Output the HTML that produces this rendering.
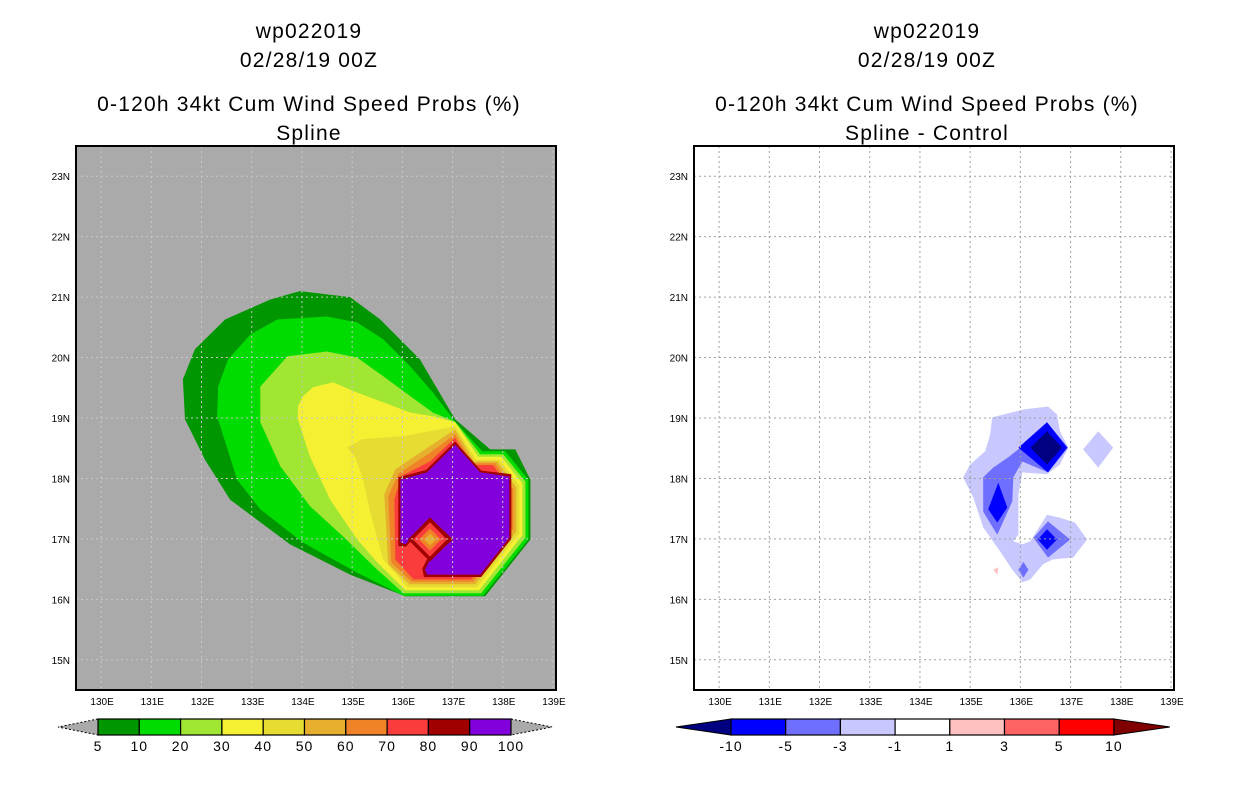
<!DOCTYPE html>
<html><head><meta charset="utf-8"><style>
html,body{margin:0;padding:0;background:#fff;width:1236px;height:800px;overflow:hidden}
svg text{font-family:"Liberation Sans",sans-serif}
</style></head><body>
<svg id="s" width="1236" height="800" xmlns="http://www.w3.org/2000/svg"></svg>
<script>
// ---- data ----
const lonTicks=[130,131,132,133,134,135,136,137,138,139];
const latTicks=[15,16,17,18,19,20,21,22,23];
const leftLevels=[5,10,20,30,40,50,60,70,80,90,100];
const leftColors=["#009600","#00dc00","#a0e632","#f5f032","#e6dc32","#e6af2d","#f08228","#fa3c3c","#a00000","#8200dc"];
const rightLevels=[-10,-5,-3,-1,1,3,5,10];
const rightColors=["#000080","#0000ff","#6e6eff","#c8c8ff","#ffffff","#ffc0c0","#ff6464","#ff0000","#800000"];
const c5=[[133.96,21.10],[134.96,21.0],[135.56,20.63],[136.35,19.97],[137.05,18.98],[137.75,18.48],[138.25,18.48],[138.55,17.98],[138.55,16.99],[137.65,16.05],[136.06,16.05],[134.96,16.41],[133.76,16.91],[132.57,17.65],[132.07,18.31],[131.67,18.98],[131.63,19.64],[131.87,20.14],[132.47,20.63],[133.37,20.96]];
const c10=[[133.51,20.63],[134.50,20.68],[135.10,20.58],[135.62,20.30],[136.16,19.85],[136.61,19.42],[137.05,18.94],[137.59,18.45],[138.05,18.45],[138.51,17.98],[138.51,16.99],[137.61,16.06],[136.02,16.06],[135.10,16.44],[134.02,16.94],[133.17,17.49],[132.71,17.98],[132.31,19.03],[132.33,19.52],[132.53,19.97],[132.97,20.38]];
const c20=[[133.17,19.52],[133.71,20.02],[134.50,20.10],[135.10,20.00],[135.62,19.69],[136.16,19.36],[136.61,19.09],[137.05,18.94],[137.55,18.40],[138.01,18.40],[138.45,17.95],[138.45,17.02],[137.57,16.10],[136.02,16.10],[135.50,16.49],[134.82,17.04],[134.16,17.54],[133.57,18.20],[133.17,18.93]];
const c30=[[133.92,19.19],[134.02,19.36],[134.22,19.51],[134.62,19.59],[135.10,19.42],[135.62,19.26],[136.16,19.09],[136.61,19.03],[137.05,18.93],[137.51,18.36],[137.97,18.36],[138.39,17.92],[138.39,17.06],[137.53,16.15],[136.06,16.15],[135.50,16.61],[135.10,16.99],[134.56,17.65],[134.16,18.36],[133.92,18.98]];
const c40=[[134.90,18.51],[135.20,18.65],[136.02,18.70],[137.05,18.86],[137.47,18.31],[137.93,18.31],[138.33,17.88],[138.33,17.09],[137.49,16.20],[136.10,16.20],[135.62,16.66],[135.36,17.44],[135.22,17.98],[135.06,18.36]];
const c50=[[137.05,18.81],[137.43,18.28],[137.89,18.28],[138.27,17.85],[138.27,17.12],[137.45,16.25],[136.14,16.25],[135.72,16.58],[135.64,17.74],[135.86,18.15],[136.45,18.48]];
const c60=[[137.05,18.73],[137.39,18.25],[137.85,18.25],[138.21,17.82],[138.21,17.16],[137.41,16.29],[136.18,16.29],[135.78,16.61],[135.72,17.70],[135.92,18.08],[136.51,18.40]];
const c70=[[137.05,18.67],[137.35,18.22],[137.81,18.22],[138.17,17.78],[138.17,17.19],[137.37,16.33],[136.22,16.33],[135.86,16.66],[135.84,17.65],[135.98,18.04],[136.55,18.28]];
const c80=[[135.92,18.02],[136.47,18.14],[137.05,18.61],[137.57,18.13],[138.17,18.07],[138.17,17.0],[137.57,16.37],[136.43,16.37],[136.40,16.51],[136.50,16.68],[136.95,16.99],[136.55,17.31],[136.07,16.87],[135.92,16.88]];
const c90=[[135.96,17.98],[136.49,18.10],[137.05,18.56],[137.55,18.10],[138.13,18.03],[138.13,17.02],[137.55,16.41],[136.49,16.41],[136.45,16.49],[136.55,16.66],[137.01,16.99],[136.55,17.35],[136.06,16.91],[135.96,16.94]];
const leftPolys=[c5,c10,c20,c30,c40,c50,c60,c70,c80,c90];
const spotCenter=[136.55,16.99];
const spotLevelIdx=[8,7,6,5];
const spotRadDeg=[0.44,0.34,0.22,0.12];
const d1a=[[135.44,19.01],[136.06,19.14],[136.55,19.19],[136.73,19.06],[136.79,18.78],[136.95,18.51],[136.79,18.23],[136.53,18.07],[136.04,18.10],[135.96,17.74],[135.96,17.07],[135.86,16.96],[136.04,16.91],[136.20,16.96],[136.53,17.40],[136.79,17.35],[137.09,17.27],[137.33,16.99],[137.05,16.69],[136.65,16.66],[136.45,16.58],[136.20,16.33],[136.04,16.28],[135.84,16.49],[135.60,16.79],[135.26,17.19],[135.06,17.69],[134.86,18.02],[135.00,18.23],[135.30,18.45],[135.40,18.73]];
const d1b=[[137.55,18.78],[137.85,18.51],[137.55,18.18],[137.25,18.48]];
const d3a=[[136.00,18.51],[136.53,18.93],[136.95,18.51],[136.55,18.10],[136.04,18.28],[135.86,18.02],[135.84,17.62],[135.54,17.07],[135.26,17.45],[135.26,18.02],[135.46,18.18],[135.76,18.35]];
const d3b=[[136.26,17.02],[136.55,17.29],[136.99,16.99],[136.55,16.69]];
const d3c=[[135.96,16.49],[136.06,16.62],[136.16,16.49],[136.06,16.36]];
const d5a=[[135.96,18.51],[136.53,18.93],[136.93,18.51],[136.55,18.10]];
const d5b=[[135.56,17.93],[135.74,17.52],[135.54,17.27],[135.36,17.49]];
const d5c=[[136.53,17.16],[136.73,16.99],[136.53,16.82],[136.35,16.99]];
const d10a=[[136.20,18.51],[136.53,18.78],[136.83,18.51],[136.53,18.23]];
const p1a=[[135.46,16.49],[135.56,16.53],[135.54,16.41]];
const rightPolys=[[d1a,3],[d1b,3],[d3a,2],[d3b,2],[d3c,2],[d5a,1],[d5b,1],[d5c,1],[d10a,0],[p1a,5]];

const NS="http://www.w3.org/2000/svg";
const svg=document.getElementById('s');
function mk(tag,attrs,parent){const e=document.createElementNS(NS,tag);for(const k in attrs)e.setAttribute(k,attrs[k]);(parent||svg).appendChild(e);return e;}
const PW=480,PH=544,PT=146;
const lon0=129.5,lon1=139.06,lat0=14.5,lat1=23.5;
function xs(ox,lon){return ox+(lon-lon0)/(lon1-lon0)*PW;}
function ys(lat){return PT+(lat1-lat)/(lat1-lat0)*PH;}
function pts(ox,poly){return poly.map(p=>xs(ox,p[0]).toFixed(1)+","+ys(p[1]).toFixed(1)).join(" ");}

function titles(cx,sub,side){
  const lines=[["wp022019",38],["02/28/19 00Z",67],["0-120h 34kt Cum Wind Speed Probs (%)",111],[sub,140]];
  const names=["storm-id-title","date-title","product-title","subtitle"];
  lines.forEach((l,i)=>{const t=mk('text',{x:cx,y:l[1],'text-anchor':'middle','font-size':'21','letter-spacing':'1.2',fill:'#000'});t.textContent=l[0];
    
    });
}
function axes(ox,side,bg){
  const g=mk('g',{});
  
  
  mk('rect',{x:ox,y:PT,width:PW,height:PH,fill:bg},g);
  return g;
}
function grid(ox,g,color){
  lonTicks.forEach(l=>{const x=xs(ox,l);if(x<ox+PW-1){const ln=mk('line',{x1:x,y1:PT,x2:x,y2:PT+PH,stroke:color,'stroke-width':1,'stroke-dasharray':'2,3'},g);
    
    }});
  latTicks.forEach(l=>{const y=ys(l);const ln=mk('line',{x1:ox,y1:y,x2:ox+PW,y2:y,stroke:color,'stroke-width':1,'stroke-dasharray':'2,3'},g);
    
    });
}
function frameAndTicks(ox,g,side){
  const r=mk('rect',{x:ox,y:PT,width:PW,height:PH,fill:'none',stroke:'#000','stroke-width':2},g);
  
  
  lonTicks.forEach(l=>{const t=mk('text',{x:xs(ox,l)+1,y:705,'text-anchor':'middle','font-size':'10',fill:'#000'},g);t.textContent=l+"E";
    
    });
  latTicks.forEach(l=>{const t=mk('text',{x:ox-6,y:ys(l)+4,'text-anchor':'end','font-size':'10',fill:'#000'},g);t.textContent=l+"N";
    
    });
}

titles(309,"Spline","left");
const gl=axes(76,"left","#aaaaaa");
leftPolys.forEach((p,i)=>{const e=mk('polygon',{points:pts(76,p),fill:leftColors[i]},gl);
  
  });
spotLevelIdx.forEach((li,k)=>{const r=spotRadDeg[k],c=spotCenter;
  const poly=[[c[0],c[1]+r*0.83],[c[0]+r,c[1]],[c[0],c[1]-r*0.83],[c[0]-r,c[1]]];
  const e=mk('polygon',{points:pts(76,poly),fill:leftColors[li]},gl);
  
  });
grid(76,gl,'#c8c8c8');
frameAndTicks(76,gl,"left");

titles(927,"Spline - Control","right");
const gr=axes(694,"right","#ffffff");
rightPolys.forEach(rp=>{const e=mk('polygon',{points:pts(694,rp[0]),fill:rightColors[rp[1]]},gr);
  
  });
grid(694,gr,'#a0a0a0');
frameAndTicks(694,gr,"right");

function colorbar(x0,segW,colors,labels,triL,triR,side,dashedTri){
  const g=mk('g',{});
  
  
  const y0=719,h=16,n=colors.length;
  const st=dashedTri?{'stroke':'#000','stroke-width':1,'stroke-dasharray':'2,2'}:{'stroke':'#000','stroke-width':1};
  const tl=mk('polygon',Object.assign({points:`${x0},${y0} ${x0-triL},${y0+h/2} ${x0},${y0+h}`,fill:colors[0]},st),g);
  
  
  const xe=x0+segW*(n-2);
  const tr=mk('polygon',Object.assign({points:`${xe},${y0} ${xe+triR},${y0+h/2} ${xe},${y0+h}`,fill:colors[n-1]},st),g);
  
  
  for(let i=1;i<n-1;i++){const r=mk('rect',{x:x0+segW*(i-1),y:y0,width:segW,height:h,fill:colors[i],stroke:'#000','stroke-width':1.2},g);
    
    }
  labels.forEach((l,i)=>{const t=mk('text',{x:x0+segW*i,y:751,'text-anchor':'middle','font-size':'14','letter-spacing':'1',fill:'#000'},g);t.textContent=l;
    
    });
}
colorbar(98,41.3,["#aaaaaa"].concat(leftColors,["#aaaaaa"]),leftLevels,40,41,"left",true);
colorbar(731,54.7,rightColors,rightLevels,55,56,"right",false);
</script>
</body></html>
